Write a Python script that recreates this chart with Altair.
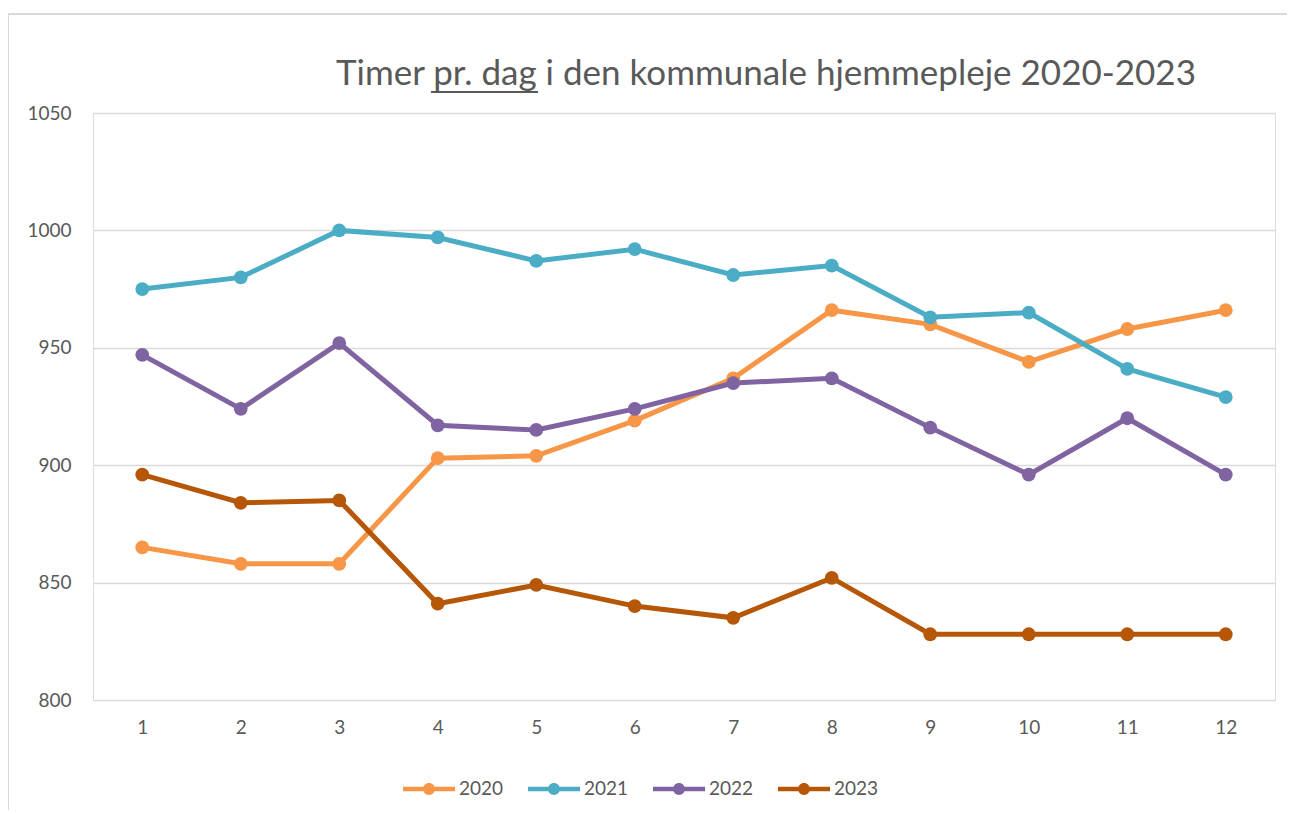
import altair as alt
import pandas as pd

months = list(range(1, 13))
v2020 = [865, 858, 858, 903, 904, 919, 937, 966, 960, 944, 958, 966]
v2021 = [975, 980, 1000, 997, 987, 992, 981, 985, 963, 965, 941, 929]
v2022 = [947, 924, 952, 917, 915, 924, 935, 937, 916, 896, 920, 896]
v2023 = [896, 884, 885, 841, 849, 840, 835, 852, 828, 828, 828, 828]
years = ["2020", "2021", "2022", "2023"]
colors = ["#F79646", "#4BACC6", "#8064A2", "#B65708"]
title_text = "Timer pr. dag i den kommunale hjemmepleje 2020-2023"

rows = []
for yname, vals in zip(years, [v2020, v2021, v2022, v2023]):
    for m, v in zip(months, vals):
        rows.append({"Måned": m, "År": yname, "Timer": v})
df = pd.DataFrame(rows)

FONT = "Lato"
TXT = "#595959"

legend_symbol = (
    "M-1,-0.09H-0.2V0.09H-1Z "
    "M0.2,-0.09H1V0.09H0.2Z "
    "M0.23,0A0.23,0.23 0 1,1 -0.23,0A0.23,0.23 0 1,1 0.23,0Z"
)

x_enc = alt.X("Måned:O", scale=alt.Scale(paddingOuter=0.5),
              axis=alt.Axis(title=None, labelAngle=0, domain=False, ticks=False,
                            labelPadding=18, labelFontSize=19, labelColor=TXT, labelFont=FONT,
                            grid=False))
y_enc = alt.Y("Timer:Q", scale=alt.Scale(domain=[800, 1050], nice=False, zero=False),
              axis=alt.Axis(title=None, values=[800, 850, 900, 950, 1000, 1050], format="d",
                            domain=False, ticks=False, labelPadding=22, labelFontSize=19,
                            labelColor=TXT, labelFont=FONT, gridColor="#D9D9D9", gridWidth=1.5))
color_enc = alt.Color("År:N", scale=alt.Scale(domain=years, range=colors),
                      legend=alt.Legend(title=None, orient="none", direction="horizontal",
                                        legendX=310, legendY=650,
                                        symbolType=legend_symbol, symbolSize=2704,
                                        symbolStrokeWidth=0, labelFontSize=19, labelFont=FONT,
                                        labelColor=TXT, columnPadding=24, labelOffset=4))

base = alt.Chart(df)
lines = base.mark_line(strokeWidth=5).encode(x=x_enc, y=y_enc, color=color_enc)
points = base.mark_point(filled=True, size=190, opacity=1).encode(x=x_enc, y=y_enc, color=color_enc)

one = pd.DataFrame({"a": [0]})
frame = alt.Chart(one).mark_rect(
    fill=None, stroke="#D9D9D9", strokeWidth=2, clip=False
).encode(x=alt.value(-85), x2=alt.value(1197), y=alt.value(-99), y2=alt.value(720))

title = alt.Chart(pd.DataFrame({"t": [title_text]})).mark_text(
    font=FONT, fontSize=35, color=TXT, align="center", baseline="alphabetic", clip=False
).encode(text="t:N", x=alt.value(673), y=alt.value(-28))

underline = alt.Chart(one).mark_rule(color=TXT, strokeWidth=2, clip=False).encode(
    x=alt.value(338), x2=alt.value(445), y=alt.value(-21))

chart = alt.layer(frame, lines, points, title, underline).properties(
    width=1182, height=587,
    autosize=alt.AutoSizeParams(type="none"),
    padding={"left": 85, "top": 105, "right": 12, "bottom": 110},
).configure_view(stroke=None).configure(background="white")

chart.save("out.html", embed_options={"renderer": "svg", "actions": False})
